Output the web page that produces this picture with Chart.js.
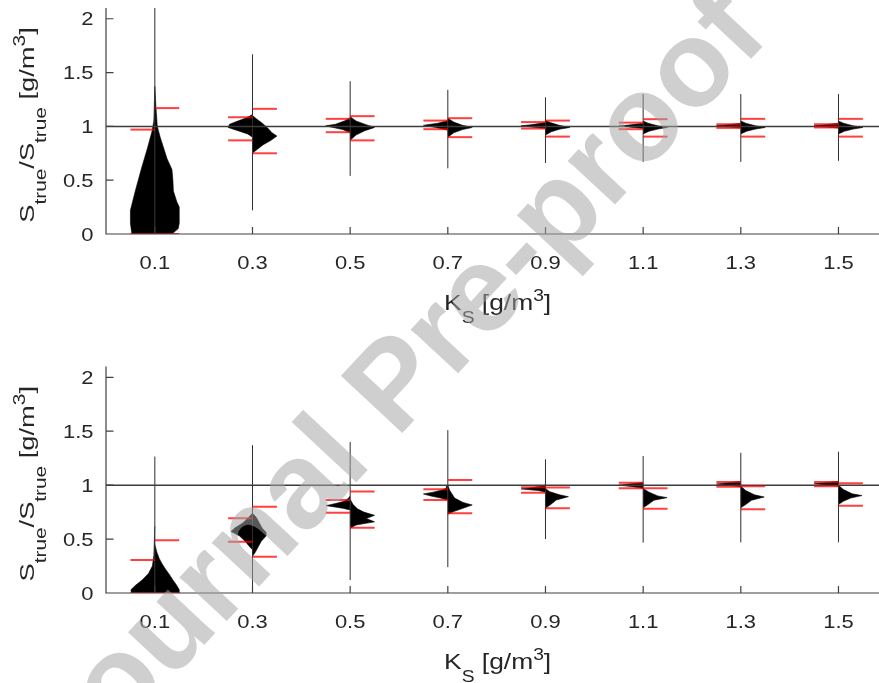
<!DOCTYPE html>
<html>
<head>
<meta charset="utf-8">
<script src="https://cdn.jsdelivr.net/npm/chart.js@4.4.0/dist/chart.umd.min.js"></script>
<style>
  html, body { margin: 0; padding: 0; background: #fff; }
  #wrap { position: relative; width: 879px; height: 683px; overflow: hidden; }
  #c1 { position: absolute; left: 0; top: 0; }
  #c2 { position: absolute; left: 0; top: 341px; }
  #mark { position: absolute; left: 0; top: 0; pointer-events: none; }
</style>
</head>
<body>
<div id="wrap">
  <canvas id="c1" width="879" height="341"></canvas>
  <canvas id="c2" width="879" height="342"></canvas>
  <canvas id="mark" width="879" height="683"></canvas>
</div>
<script>
// categories on the K_S axis and tick values
const categories = [0.1, 0.3, 0.5, 0.7, 0.9, 1.1, 1.3, 1.5];
const yTickValues = [0, 0.5, 1, 1.5, 2];
const referenceLevel = 1;

// ---- top panel ----
// whisker range (min / max) per category
const topLow  = [0, 0.22, 0.54, 0.61, 0.66, 0.67, 0.67, 0.68];
const topHigh = [2.25, 1.67, 1.42, 1.34, 1.27, 1.30, 1.30, 1.30];
// red quantile marks, left and right half
const topRedLeft  = [[0.97, 0], [1.085, 0.87], [1.07, 0.946], [1.054, 0.974], [1.04, 0.98], [1.035, 0.974], [1.02, 0.986], [1.02, 0.99]];
const topRedRight = [[1.17, 0], [1.163, 0.75], [1.095, 0.87], [1.076, 0.90], [1.054, 0.905], [1.067, 0.905], [1.07, 0.905], [1.07, 0.905]];
// density profiles [value, relative density]
const topDensLeft = [
  [[0, 0.94], [0.1, 1.0], [0.22, 1.0], [0.4, 0.8], [0.6, 0.56], [0.8, 0.3], [0.95, 0.12], [1.05, 0.04], [1.37, 0]],
  [[0.9, 0], [0.93, 0.2], [0.96, 0.6], [0.99, 1.0], [1.02, 0.94], [1.05, 0.6], [1.08, 0.24], [1.11, 0]],
  [[0.94, 0], [0.97, 0.3], [0.99, 0.7], [1.005, 1.0], [1.02, 0.6], [1.05, 0.24], [1.08, 0]],
  [[0.965, 0], [0.99, 0.5], [1.01, 1.0], [1.03, 0.4], [1.055, 0]],
  [[0.98, 0], [0.995, 0.6], [1.005, 1.0], [1.015, 0.6], [1.035, 0]],
  [[0.98, 0], [0.995, 0.6], [1.003, 1.0], [1.012, 0.6], [1.03, 0]],
  [[0.985, 0], [0.997, 0.6], [1.005, 1.0], [1.013, 0.6], [1.03, 0]],
  [[0.985, 0], [0.997, 0.6], [1.005, 1.0], [1.013, 0.6], [1.03, 0]]
];
const topDensRight = [
  [[0, 0.7], [0.05, 0.96], [0.1, 1.0], [0.25, 1.0], [0.3, 0.9], [0.4, 0.76], [0.5, 0.74], [0.6, 0.7], [0.7, 0.5], [0.8, 0.36], [0.9, 0.22], [1.0, 0.1], [1.2, 0.04], [1.37, 0]],
  [[0.75, 0], [0.78, 0.16], [0.83, 0.44], [0.87, 0.76], [0.91, 1.0], [0.94, 0.8], [0.99, 0.6], [1.03, 0.4], [1.07, 0.16], [1.1, 0]],
  [[0.87, 0], [0.92, 0.24], [0.96, 0.6], [0.99, 1.0], [1.02, 0.6], [1.05, 0.24], [1.09, 0]],
  [[0.9, 0], [0.94, 0.24], [0.97, 0.6], [0.99, 1.0], [1.01, 0.6], [1.04, 0.24], [1.075, 0]],
  [[0.92, 0], [0.95, 0.24], [0.975, 0.6], [0.99, 1.0], [1.01, 0.56], [1.035, 0.2], [1.055, 0]],
  [[0.93, 0], [0.955, 0.24], [0.975, 0.6], [0.99, 1.0], [1.005, 0.6], [1.03, 0.2], [1.05, 0]],
  [[0.93, 0], [0.955, 0.24], [0.975, 0.6], [0.99, 1.0], [1.005, 0.6], [1.03, 0.2], [1.05, 0]],
  [[0.93, 0], [0.955, 0.24], [0.975, 0.6], [0.99, 1.0], [1.005, 0.6], [1.03, 0.2], [1.05, 0]]
];

// ---- bottom panel ----
const botLow  = [0, 0, 0.12, 0.24, 0.50, 0.467, 0.47, 0.47];
const botHigh = [1.265, 1.37, 1.40, 1.51, 1.24, 1.27, 1.30, 1.31];
const botRedLeft  = [[0.306, 0], [0.693, 0.476], [0.863, 0.745], [0.962, 0.863], [0.98, 0.93], [1.023, 0.971], [1.03, 0.986], [1.03, 0.99]];
const botRedRight = [[0.49, 0], [0.80, 0.337], [0.94, 0.606], [1.048, 0.74], [0.977, 0.786], [0.971, 0.782], [0.99, 0.776], [1.018, 0.81]];
const botDensLeft = [
  [[0, 0.96], [0.03, 0.98], [0.07, 0.8], [0.12, 0.52], [0.18, 0.26], [0.25, 0.1], [0.35, 0.04], [0.62, 0]],
  [[0.40, 0], [0.44, 0.16], [0.48, 0.3], [0.53, 0.54], [0.57, 0.88], [0.6, 0.74], [0.65, 0.4], [0.7, 0.16], [0.74, 0]],
  [[0.77, 0], [0.785, 0.3], [0.8, 0.7], [0.81, 0.98], [0.83, 0.6], [0.85, 0.24], [0.88, 0.06], [0.9, 0]],
  [[0.86, 0], [0.88, 0.3], [0.9, 0.7], [0.918, 1.0], [0.935, 0.6], [0.955, 0.24], [0.975, 0.04], [0.99, 0.06], [1.0, 0]],
  [[0.935, 0], [0.95, 0.3], [0.965, 1.0], [0.975, 0.6], [0.99, 0.2], [1.0, 0]],
  [[0.97, 0], [0.985, 0.4], [1.0, 1.0], [1.01, 0.6], [1.025, 0]],
  [[0.985, 0], [0.995, 0.4], [1.01, 1.0], [1.02, 0.6], [1.035, 0]],
  [[0.99, 0], [1.0, 0.4], [1.012, 1.0], [1.022, 0.6], [1.035, 0]]
];
const botDensRight = [
  [[0, 1.0], [0.03, 1.0], [0.07, 0.9], [0.12, 0.74], [0.17, 0.6], [0.22, 0.44], [0.27, 0.3], [0.32, 0.18], [0.38, 0.08], [0.45, 0]],
  [[0.34, 0], [0.38, 0.12], [0.43, 0.24], [0.48, 0.36], [0.53, 0.56], [0.56, 0.56], [0.6, 0.4], [0.65, 0.28], [0.7, 0.16], [0.74, 0]],
  [[0.6, 0], [0.63, 0.24], [0.66, 1.0], [0.69, 0.66], [0.72, 1.0], [0.75, 0.56], [0.78, 0.3], [0.82, 0.12], [0.87, 0]],
  [[0.73, 0], [0.755, 0.24], [0.785, 0.62], [0.816, 1.0], [0.84, 0.62], [0.88, 0.28], [0.95, 0.08], [1.0, 0]],
  [[0.785, 0], [0.825, 0.24], [0.862, 0.44], [0.893, 0.94], [0.91, 0.58], [0.94, 0.16], [0.97, 0]],
  [[0.79, 0], [0.82, 0.2], [0.86, 0.44], [0.884, 0.98], [0.9, 0.6], [0.935, 0.24], [0.97, 0]],
  [[0.79, 0], [0.82, 0.2], [0.86, 0.44], [0.89, 0.96], [0.91, 0.56], [0.95, 0.2], [0.99, 0]],
  [[0.82, 0], [0.85, 0.2], [0.88, 0.5], [0.903, 0.96], [0.92, 0.56], [0.96, 0.2], [1.0, 0]]
];

const xMax = 1.583;
const yMax = 2.1;
const halfWidth = 0.05;   // violin half width in K_S units
const FONT = '"Liberation Sans", Arial, Helvetica, sans-serif';

function seg(points, color, width, order) {
  return { data: points, borderColor: color, borderWidth: width, pointRadius: 0,
           fill: false, tension: 0, order: order };
}

function violin(c, dens, side) {
  const pts = [{ x: c, y: dens[0][0] }];
  dens.forEach(d => pts.push({ x: c + side * d[1] * halfWidth, y: d[0] }));
  pts.push({ x: c, y: dens[dens.length - 1][0] });
  return { data: pts, borderColor: '#000', borderWidth: 0.6, backgroundColor: '#000',
           fill: 'shape', pointRadius: 0, tension: 0, order: 3 };
}

function buildDatasets(low, high, redL, redR, densL, densR) {
  const sets = [];
  const red = 'rgba(255,0,0,0.75)';
  categories.forEach((c, i) => {
    redL[i].forEach(v => sets.push(seg([{ x: c - halfWidth, y: v }, { x: c, y: v }], red, 2, 0)));
    redR[i].forEach(v => sets.push(seg([{ x: c, y: v }, { x: c + halfWidth, y: v }], red, 2, 0)));
  });
  sets.push(seg([{ x: 0, y: referenceLevel }, { x: xMax, y: referenceLevel }], '#3c3c3c', 1.5, 1));
  categories.forEach((c, i) => sets.push(seg([{ x: c, y: low[i] }, { x: c, y: high[i] }], '#2e2e2e', 1, 2)));
  categories.forEach((c, i) => {
    sets.push(violin(c, densL[i], -1));
    sets.push(violin(c, densR[i], 1));
  });
  return sets;
}

// text with sub/superscripts, centred on (0,0) baseline, stretched along its direction
function richText(ctx, parts, main, small, subDy, supDy, stretch) {
  let total = 0;
  parts.forEach(p => {
    ctx.font = (p.sub || p.sup ? small : main) + 'px ' + FONT;
    p.w = ctx.measureText(p.t).width;
    total += p.w;
  });
  ctx.scale(stretch, 1);
  let x = -total / 2;
  parts.forEach(p => {
    ctx.font = (p.sub || p.sup ? small : main) + 'px ' + FONT;
    const dy = p.sub ? subDy : (p.sup ? supDy : 0);
    ctx.fillText(p.t, x, dy);
    x += p.w;
  });
}

function stretchedLabel(ctx, text, x, y, stretch) {
  ctx.save();
  ctx.translate(x, y);
  ctx.scale(stretch, 1);
  ctx.fillText(text, 0, 0);
  ctx.restore();
}

const xTitle = [{ t: 'K' }, { t: 'S', sub: true }, { t: ' [g/m' }, { t: '3', sup: true }, { t: ']' }];
const yTitle = [{ t: 'S' }, { t: 'true', sub: true }, { t: '/S' }, { t: 'true', sub: true },
                { t: ' [g/m' }, { t: '3', sup: true }, { t: ']' }];

const axesPlugin = {
  id: 'matlabAxes',
  afterDraw(chart) {
    const { ctx, chartArea: a } = chart;
    const xs = chart.scales.x, ys = chart.scales.y;
    ctx.save();
    ctx.strokeStyle = '#404040';
    ctx.lineWidth = 1.2;
    ctx.beginPath();
    ctx.moveTo(a.left, a.top);
    ctx.lineTo(a.left, a.bottom);
    ctx.lineTo(a.right, a.bottom);
    categories.forEach(v => {
      const px = xs.getPixelForValue(v);
      ctx.moveTo(px, a.bottom);
      ctx.lineTo(px, a.bottom - 7);
    });
    yTickValues.forEach(v => {
      const py = ys.getPixelForValue(v);
      ctx.moveTo(a.left, py);
      ctx.lineTo(a.left + 7.5, py);
    });
    ctx.stroke();

    ctx.fillStyle = '#262626';
    ctx.font = '18px ' + FONT;
    ctx.textBaseline = 'alphabetic';
    ctx.textAlign = 'center';
    categories.forEach(v => stretchedLabel(ctx, v.toFixed(1), xs.getPixelForValue(v), a.bottom + 35, 1.22));
    ctx.textAlign = 'right';
    yTickValues.forEach(v => stretchedLabel(ctx, String(v), a.left - 12.5, ys.getPixelForValue(v) + 6.5, 1.22));

    ctx.textAlign = 'left';
    ctx.save();
    ctx.translate(xs.getPixelForValue(0.8) + 1, a.bottom + 75.5);
    richText(ctx, xTitle, 22, 16, 13, -9, 1.2);
    ctx.restore();

    ctx.save();
    ctx.translate(34, (a.top + a.bottom) / 2 + 4);
    ctx.rotate(-Math.PI / 2);
    richText(ctx, yTitle, 21, 16, 12, -9, 1.3);
    ctx.restore();
    ctx.restore();
  }
};

function makePanel(id, padTop, padBottom, datasets) {
  return new Chart(document.getElementById(id), {
    type: 'line',
    data: { datasets: datasets },
    options: {
      responsive: false,
      animation: false,
      events: [],
      layout: { padding: { left: 106, right: 0, top: padTop, bottom: padBottom } },
      plugins: { legend: { display: false }, tooltip: { enabled: false } },
      scales: {
        x: { type: 'linear', min: 0, max: xMax, display: false },
        y: { type: 'linear', min: 0, max: yMax, display: false }
      }
    },
    plugins: [axesPlugin]
  });
}

makePanel('c1', 8, 107, buildDatasets(topLow, topHigh, topRedLeft, topRedRight, topDensLeft, topDensRight));
makePanel('c2', 25.5, 90, buildDatasets(botLow, botHigh, botRedLeft, botRedRight, botDensLeft, botDensRight));

// watermark on top of both panels
const mctx = document.getElementById('mark').getContext('2d');
mctx.save();
mctx.translate(73, 786);
mctx.rotate(-47 * Math.PI / 180);
mctx.font = 'bold 122px ' + FONT;
mctx.fillStyle = 'rgba(165,165,165,0.53)';
mctx.fillText('Journal Pre-proof', 0, 0);
mctx.restore();
</script>
</body>
</html>
